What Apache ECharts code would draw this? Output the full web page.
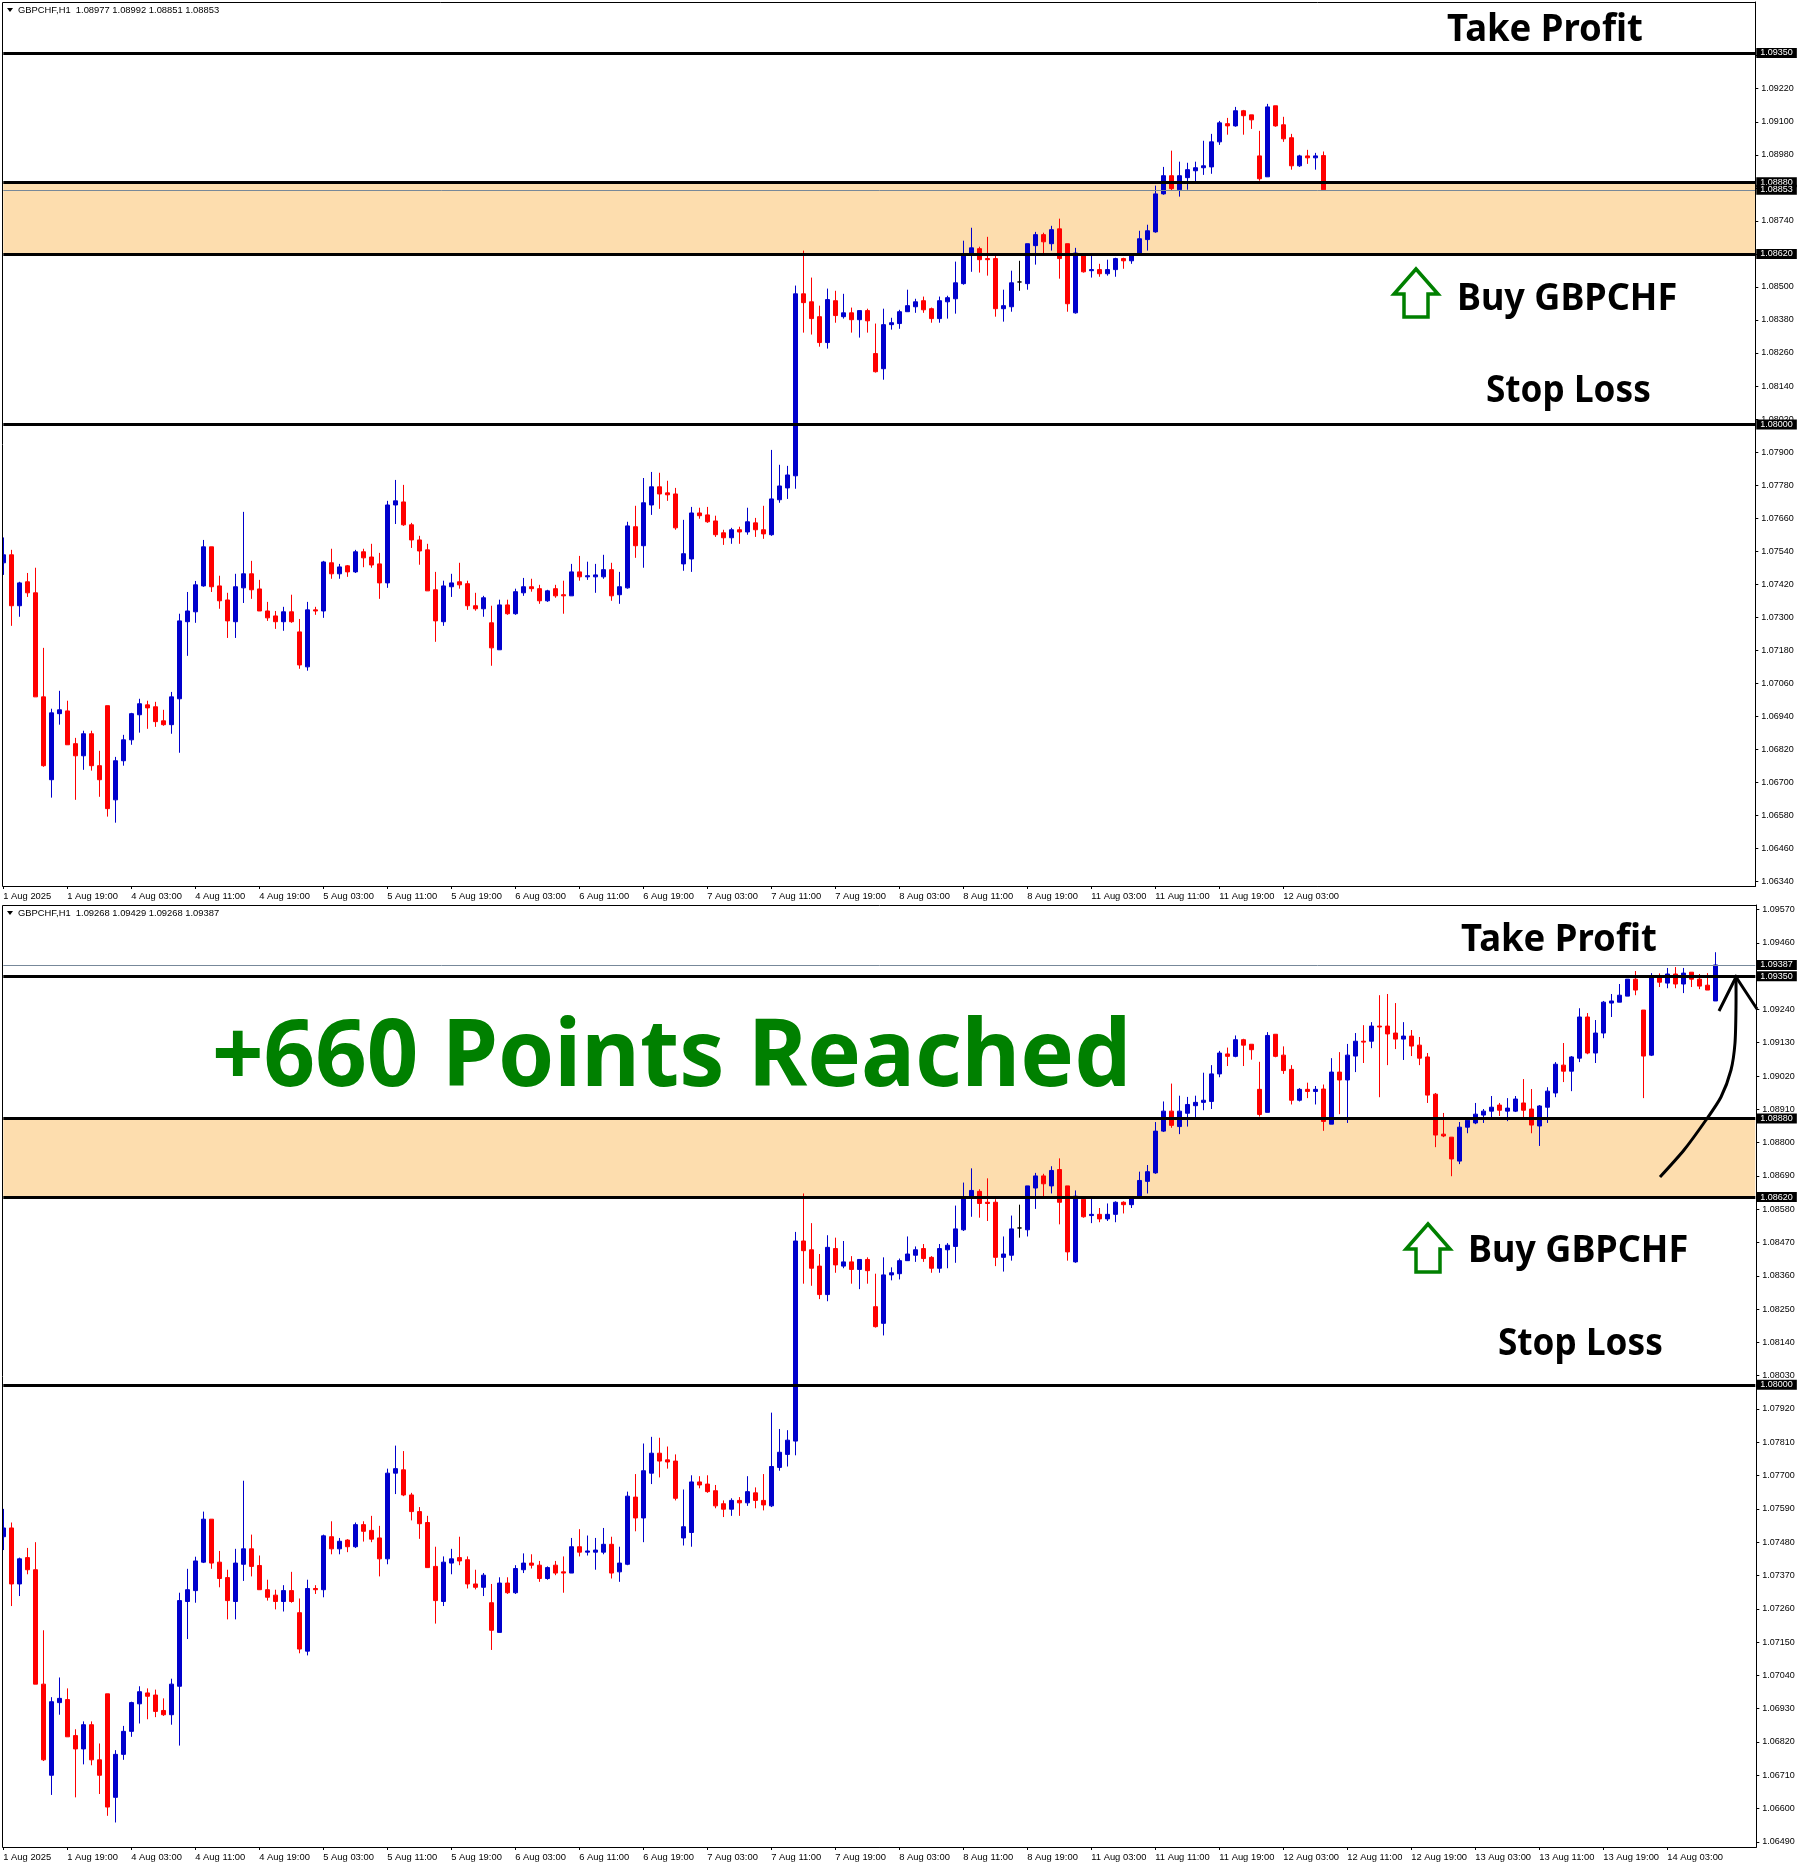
<!DOCTYPE html>
<html>
<head>
<meta charset="utf-8">
<title>GBPCHF H1</title>
<script src="https://cdn.jsdelivr.net/npm/echarts@6/dist/echarts.min.js"></script>
<style>
html, body { margin: 0; padding: 0; background: #fff; }
#chart { width: 1801px; height: 1865px; }
</style>
</head>
<body>
<div id="chart"></div>
<script>
// prices are kept in 1/100000 units, one row per ten hourly bars
var opens = [
107498,107527,107342,107429,107389,107011,106710,106950,106960,106841,
106797,106877,106761,106979,106637,106779,106855,106946,106982,106975,
106924,106910,107004,107284,107320,107414,107556,107414,107363,107284,
107407,107458,107403,107323,107305,107284,107320,107247,107120,107327,
107323,107498,107458,107487,107465,107538,107519,107494,107425,107708,
107719,107636,107581,107545,107400,107284,107411,107429,107422,107342,
107331,107280,107182,107345,107313,107389,107411,107404,107360,107404,
107382,107378,107465,107447,107447,107447,107473,107382,107407,107629,
107560,107708,107774,107752,107748,107494,107512,107679,107672,107650,
107607,107589,107618,107610,107643,107618,107600,107727,107770,107814,
108475,108446,108392,108298,108450,108392,108406,108381,108414,108258,
108203,108363,108367,108410,108428,108450,108421,108385,108446,108457,
108512,108623,108639,108603,108603,108421,108428,108518,108512,108650,
108690,108657,108711,108657,108406,108613,108559,108563,108548,108563,
108603,108595,108621,108672,108700,108838,108904,108853,108897,108922,
108933,108936,109027,109093,109085,109140,109125,108976,108900,109158,
109089,109042,108940,108976,108969,108977,108861,109033,109007,109086,
109135,109135,109185,109185,109162,109142,109152,109122,109083,108960,
108828,108818,108739,108851,108865,108891,108904,108924,108904,108904,
108931,108911,108855,108917,108964,109056,109036,109079,109215,109096,
109162,109261,109264,109284,109340,109238,109089,109350,109327,109357,
109324,109363,109340,109320,109268];
var closes = [
107527,107342,107425,107389,107011,106761,106953,106964,106837,106797,
106877,106761,106710,106605,106779,106855,106950,106986,106971,106921,
106910,107011,107287,107323,107418,107556,107411,107360,107287,107411,
107458,107400,107323,107298,107284,107320,107284,107127,107327,107323,
107501,107458,107483,107465,107538,107516,107490,107425,107708,107723,
107636,107581,107541,107396,107287,107414,107425,107418,107342,107331,
107371,107189,107345,107313,107393,107411,107404,107360,107396,107378,
107378,107465,107447,107451,107454,107473,107378,107411,107632,107560,
107716,107774,107748,107745,107625,107531,107679,107669,107647,107600,
107589,107618,107610,107647,107618,107603,107730,107777,107817,108475,
108443,108385,108298,108454,108396,108406,108381,108414,108377,108192,
108363,108370,108410,108432,108446,108417,108385,108450,108461,108515,
108617,108642,108599,108599,108421,108432,108515,108518,108657,108690,
108664,108708,108603,108439,108623,108555,108563,108548,108563,108603,
108595,108617,108675,108704,108838,108904,108857,108904,108926,108933,
108940,109027,109096,109085,109140,109122,109107,108893,109154,109085,
109038,108940,108976,108969,108976,108870,109033,109007,109089,109135,
109132,109185,109182,109159,109142,109152,109119,109079,108957,108825,
108822,108746,108851,108874,108894,108904,108917,108907,108914,108944,
108907,108858,108921,108970,109059,109036,109083,109215,109096,109162,
109264,109268,109287,109340,109304,109086,109350,109330,109357,109324,
109360,109340,109317,109304,109387];
var lows = [
107454,107269,107302,107374,107011,106757,106645,106910,106837,106637,
106746,106743,106648,106576,106554,106761,106837,106881,106895,106902,
106906,106877,106808,107160,107280,107411,107392,107331,107225,107225,
107352,107367,107323,107287,107258,107251,107280,107113,107106,107309,
107298,107440,107440,107447,107461,107482,107480,107367,107407,107639,
107632,107552,107491,107396,107211,107269,107374,107404,107327,107324,
107302,107124,107182,107309,107309,107378,107393,107349,107356,107371,
107313,107378,107433,107436,107389,107440,107360,107349,107404,107516,
107480,107672,107694,107723,107618,107469,107465,107658,107643,107592,
107563,107567,107567,107600,107592,107585,107596,107716,107730,107767,
108334,108327,108283,108276,108370,108385,108334,108316,108334,108189,
108163,108345,108348,108410,108406,108406,108370,108370,108385,108403,
108508,108555,108552,108541,108392,108374,108410,108486,108490,108581,
108623,108632,108530,108410,108403,108552,108534,108537,108541,108537,
108566,108584,108621,108632,108697,108835,108849,108828,108853,108881,
108907,108911,109016,109053,109082,109053,109074,108886,108900,109082,
109027,108926,108936,108947,108926,108839,108861,108894,108865,109033,
109063,109112,108950,109056,109109,109073,109086,109056,108931,108785,
108818,108689,108729,108831,108861,108865,108884,108888,108871,108901,
108878,108831,108789,108865,108950,109000,108970,109066,109092,109063,
109145,109215,109264,109284,109287,108947,109086,109314,109310,109310,
109294,109314,109307,109304,109268];
var highs = [
107590,107545,107429,107461,107480,107189,106968,107033,106997,106862,
106888,106888,106815,106979,106793,106873,106953,107004,106997,106993,
106964,107029,107313,107392,107432,107581,107556,107451,107389,107458,
107683,107505,107436,107356,107323,107338,107382,107294,107356,107338,
107505,107549,107494,107490,107545,107549,107567,107534,107723,107799,
107781,107643,107596,107567,107465,107433,107458,107498,107433,107389,
107378,107342,107364,107364,107404,107443,107440,107418,107400,107418,
107433,107494,107523,107502,107494,107527,107498,107465,107647,107705,
107806,107828,107825,107796,107770,107654,107701,107698,107701,107669,
107618,107625,107629,107698,107661,107705,107908,107854,107850,108505,
108632,108534,108432,108494,108486,108475,108425,108414,108421,108367,
108421,108388,108417,108490,108457,108465,108425,108465,108468,108592,
108668,108715,108646,108682,108613,108490,108559,108595,108657,108700,
108697,108722,108748,108657,108642,108617,108617,108584,108599,108606,
108606,108617,108704,108726,108868,108936,108995,108955,108951,108955,
109031,109056,109103,109114,109154,109143,109125,109067,109165,109158,
109118,109056,108980,108998,108987,108992,109079,109099,109126,109162,
109188,109198,109287,109291,109261,109198,109172,109149,109096,108964,
108898,108818,108868,108881,108931,108911,108954,108931,108947,108954,
109010,108977,108924,108983,109066,109129,109086,109244,109228,109205,
109268,109291,109324,109340,109367,109238,109360,109359,109377,109380,
109377,109363,109357,109360,109429];

// the upper snapshot stops while bar 165 was still forming
var lastBarTop = [1.08977, 1.08853, 1.08851, 1.08992]; // o c l h
var barCountTop = 166;

var timeLabels = ['1 Aug 2025', '1 Aug 19:00', '4 Aug 03:00', '4 Aug 11:00', '4 Aug 19:00', '5 Aug 03:00',
    '5 Aug 11:00', '5 Aug 19:00', '6 Aug 03:00', '6 Aug 11:00', '6 Aug 19:00', '7 Aug 03:00', '7 Aug 11:00',
    '7 Aug 19:00', '8 Aug 03:00', '8 Aug 11:00', '8 Aug 19:00', '11 Aug 03:00', '11 Aug 11:00', '11 Aug 19:00',
    '12 Aug 03:00', '12 Aug 11:00', '12 Aug 19:00', '13 Aug 03:00', '13 Aug 11:00', '13 Aug 19:00', '14 Aug 03:00'];
var timeLabelCountTop = 21;

var priceTicksTop = [1.0634, 1.0646, 1.0658, 1.067, 1.0682, 1.0694, 1.0706, 1.0718, 1.073, 1.0742, 1.0754, 1.0766,
    1.0778, 1.079, 1.0802, 1.0814, 1.0826, 1.0838, 1.085, 1.0862, 1.0874, 1.0886, 1.0898, 1.091, 1.0922, 1.0934];
var priceTicksBottom = [1.0649, 1.066, 1.0671, 1.0682, 1.0693, 1.0704, 1.0715, 1.0726, 1.0737, 1.0748, 1.0759, 1.077,
    1.0781, 1.0792, 1.0803, 1.0814, 1.0825, 1.0836, 1.0847, 1.0858, 1.0869, 1.088, 1.0891, 1.0902, 1.0913, 1.0924,
    1.0935, 1.0946, 1.0957];

var takeProfit = 1.0935;
var zoneTop = 1.0888;
var zoneBottom = 1.0862;
var stopLoss = 1.08;
var currentPriceTop = 1.08853;
var currentPriceBottom = 1.09387;

var titleTop = 'GBPCHF,H1  1.08977 1.08992 1.08851 1.08853';
var titleBottom = 'GBPCHF,H1  1.09268 1.09429 1.09268 1.09387';

var SLOTS = 220; // bars that fit on the screen width
var UI_FONT = '"Liberation Sans", sans-serif';
var NOTE_FONT = '"Noto Sans", sans-serif';
var GREEN = '#008000';

var categories = [];
for (var i = 0; i < SLOTS; i++) {
    categories.push(i % 8 === 0 && timeLabels[i / 8] ? timeLabels[i / 8] : '');
}

function bars(count, last) {
    var res = [];
    for (var i = 0; i < count; i++) {
        res.push([opens[i] / 100000, closes[i] / 100000, lows[i] / 100000, highs[i] / 100000]);
    }
    if (last) res[count - 1] = last;
    return res;
}

function timeAxis(gridIndex, labelCount) {
    var shown = function(index) {
        return index % 8 === 0 && index / 8 < labelCount;
    };
    return {
        type: 'category',
        gridIndex: gridIndex,
        data: categories,
        boundaryGap: false,
        axisLine: { lineStyle: { color: '#000', width: 1 } },
        axisTick: { interval: shown, length: 3, lineStyle: { color: '#000' } },
        axisLabel: {
            interval: shown,
            align: 'left',
            margin: 6,
            color: '#000',
            fontFamily: UI_FONT,
            fontSize: 9.4,
            hideOverlap: false
        },
        splitLine: { show: false }
    };
}

function priceAxis(gridIndex, min, max, ticks, offset) {
    return {
        type: 'value',
        gridIndex: gridIndex,
        position: 'right',
        offset: offset,
        min: min,
        max: max,
        axisLine: { show: true, lineStyle: { color: '#000', width: 1 } },
        axisTick: { show: true, length: 3, customValues: ticks, lineStyle: { color: '#000' } },
        axisLabel: {
            customValues: ticks,
            margin: 6,
            padding: [2, 0, 0, 0],
            color: '#000',
            fontFamily: UI_FONT,
            fontSize: 9,
            formatter: function(v) { return v.toFixed(5); }
        },
        splitLine: { show: false }
    };
}

function levelLine(value, color, width) {
    return {
        yAxis: value,
        lineStyle: { color: color, width: width, type: 'solid' },
        label: {
            show: true,
            position: 'end',
            distance: 1,
            formatter: value.toFixed(5),
            backgroundColor: '#000',
            color: '#fff',
            fontFamily: UI_FONT,
            fontSize: 9,
            lineHeight: 9,
            padding: [1, 4, 0, 4]
        }
    };
}

function candles(name, axisIndex, data, current) {
    return {
        name: name,
        type: 'candlestick',
        xAxisIndex: axisIndex,
        yAxisIndex: axisIndex,
        data: data,
        barWidth: 4,
        clip: false,
        itemStyle: {
            color: '#0000CC',
            color0: '#FF0000',
            borderColor: '#0000CC',
            borderColor0: '#FF0000',
            borderColorDoji: '#000',
            borderWidth: 1
        },
        markArea: {
            silent: true,
            itemStyle: { color: '#FDDDAE', borderWidth: 0 },
            data: [[{ yAxis: zoneTop }, { yAxis: zoneBottom }]]
        },
        markLine: {
            silent: true,
            symbol: 'none',
            precision: 5,
            animation: false,
            data: [
                levelLine(takeProfit, '#000', 3),
                levelLine(zoneTop, '#000', 3),
                levelLine(zoneBottom, '#000', 3),
                levelLine(stopLoss, '#000', 3),
                levelLine(current, '#778899', 1)
            ]
        }
    };
}

// squeezed a little horizontally, the original lettering is narrower than Noto Sans
function note(text, x, y, size, squeeze, color) {
    return {
        type: 'text',
        z: 20,
        x: x,
        y: y,
        scaleX: squeeze,
        style: {
            text: text,
            fill: color || '#000',
            font: 'bold ' + size + 'px ' + NOTE_FONT,
            textAlign: 'left',
            textVerticalAlign: 'middle'
        }
    };
}

function chartTitle(text, y) {
    return {
        type: 'text',
        z: 20,
        style: { x: 18, y: y, text: text, fill: '#000', font: '9.4px ' + UI_FONT, textVerticalAlign: 'middle' }
    };
}

function titleMark(y) {
    return {
        type: 'polygon',
        z: 20,
        shape: { points: [[7, y - 2], [13, y - 2], [10, y + 2]] },
        style: { fill: '#000' }
    };
}

function upArrow(x, y) {
    return {
        type: 'polygon',
        z: 20,
        shape: {
            points: [[x + 22, y], [x + 44, y + 25], [x + 34, y + 25], [x + 34, y + 48], [x + 10, y + 48], [x + 10, y + 25], [x, y + 25]]
        },
        style: { fill: '#fff', stroke: GREEN, lineWidth: 3.5 }
    };
}

function frame(y, h, w) {
    return [
        { type: 'rect', z: 19, shape: { x: 0, y: y, width: 2, height: h }, style: { fill: '#fff' } },
        { type: 'rect', z: 19, shape: { x: 2.5, y: y + 0.5, width: w, height: h }, style: { fill: 'none', stroke: '#000', lineWidth: 1 } }
    ];
}

var myChart = echarts.init(document.getElementById('chart'), null, { renderer: 'canvas' });

var option = {
    animation: false,
    backgroundColor: '#fff',
    tooltip: { show: false },
    grid: [
        { left: 3.3, top: 2, width: 1752, height: 884, containLabel: false },
        { left: 3.3, top: 905, width: 1752, height: 942, containLabel: false }
    ],
    xAxis: [timeAxis(0, timeLabelCountTop), timeAxis(1, timeLabels.length)],
    yAxis: [
        priceAxis(0, 1.06324, 1.09535, priceTicksTop, 0),
        priceAxis(1, 1.06473, 1.09585, priceTicksBottom, 1)
    ],
    series: [
        candles('GBPCHF top', 0, bars(barCountTop, lastBarTop), currentPriceTop),
        candles('GBPCHF bottom', 1, bars(opens.length), currentPriceBottom)
    ],
    graphic: {
        elements: [].concat(
            frame(2, 884, 1753),
            frame(905, 942, 1754),
            [
                titleMark(10),
                chartTitle(titleTop, 10),
                titleMark(913),
                chartTitle(titleBottom, 913),
                note('Take Profit', 1447, 30, 38, 0.96),
                note('Buy GBPCHF', 1457, 299, 38, 0.948),
                note('Stop Loss', 1486, 391, 38, 0.925),
                upArrow(1394, 269),
                note('Take Profit', 1461, 940, 38, 0.96),
                note('Buy GBPCHF', 1468, 1251, 38, 0.948),
                note('Stop Loss', 1498, 1344, 38, 0.925),
                upArrow(1406, 1224),
                note('+660 Points Reached', 212, 1059, 94, 0.96, GREEN),
                {
                    type: 'polyline',
                    z: 20,
                    shape: {
                        smooth: 0.25,
                        points: [[1660, 1177], [1684, 1150], [1706, 1120], [1721, 1097], [1731, 1070], [1735, 1043], [1736, 1007], [1736, 977]]
                    },
                    style: { stroke: '#000', lineWidth: 3, fill: 'none' }
                },
                {
                    type: 'polyline',
                    z: 20,
                    shape: { points: [[1719, 1011], [1736, 977], [1757, 1009]] },
                    style: { stroke: '#000', lineWidth: 3, fill: 'none' }
                }
            ]
        )
    }
};

myChart.setOption(option);
</script>
</body>
</html>
